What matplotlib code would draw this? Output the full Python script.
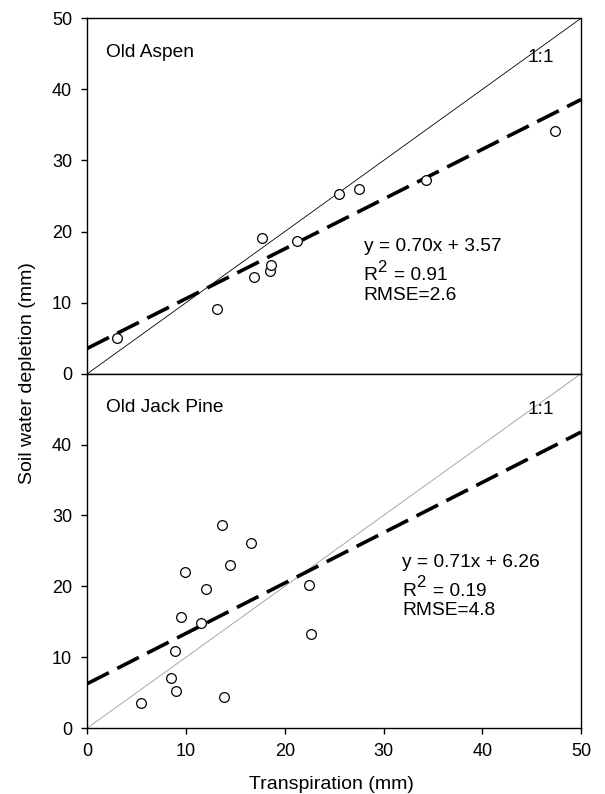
import matplotlib
matplotlib.use("Agg")
import matplotlib.pyplot as plt
import numpy as np

plt.rcParams['font.family'] = ['Liberation Sans', 'DejaVu Sans']

# Old Aspen
aspen_x = [3.0, 13.1, 16.9, 17.7, 18.5, 18.6, 21.2, 25.5, 27.5, 34.3, 47.4]
aspen_y = [5.0, 9.1, 13.6, 19.1, 14.5, 15.3, 18.7, 25.3, 26.0, 27.2, 34.1]
aspen_fit = (0.70, 3.57)

# Old Jack Pine
pine_x = [5.4, 8.5, 9.0, 8.9, 9.5, 9.9, 11.5, 12.0, 13.6, 13.8, 14.5, 16.6, 22.5, 22.7]
pine_y = [3.6, 7.0, 5.2, 10.8, 15.7, 22.0, 14.8, 19.6, 28.7, 4.4, 23.0, 26.1, 20.2, 13.3]
pine_fit = (0.71, 6.26)

panels = [
    ("Old Aspen", aspen_x, aspen_y, aspen_fit, "y = 0.70x + 3.57", "0.91", "2.6"),
    ("Old Jack Pine", pine_x, pine_y, pine_fit, "y = 0.71x + 6.26", "0.19", "4.8"),
]

fig = plt.figure(figsize=(6.05, 7.94), dpi=100)
ax1 = fig.add_axes([0.1443, 0.5293, 0.8160, 0.4476])
ax2 = fig.add_axes([0.1443, 0.0831, 0.8160, 0.4462])

# text positions (data units) for each panel
eq_pos = [(28.0, [17.25, 13.2, 10.4]), (31.9, [22.7, 18.7, 15.9])]
one_pos = [(44.6, 44.5), (44.6, 44.9)]
one_color = ['black', '#9a9a9a']
fs = 13.8

xl = np.array([0, 50])
for i, (ax, p) in enumerate(zip([ax1, ax2], panels)):
    name, xs, ys, fit, eq, r2, rmse = p
    ax.plot(xl, xl, color=one_color[i], lw=0.6)
    ax.plot(xl, fit[0] * xl + fit[1], color='black', lw=2.6,
            dashes=(6.7, 2.6), solid_capstyle='butt', dash_capstyle='butt')
    ax.plot(xs, ys, 'o', mfc='white', mec='black', ms=7, mew=0.9)
    ax.set_xlim(0, 50)
    ax.set_ylim(0, 50)
    ax.text(1.9, 45.2, name, fontsize=fs, va='center', ha='left')
    ax.text(one_pos[i][0], one_pos[i][1], "1:1", fontsize=fs, va='center', ha='left')
    ex, eys = eq_pos[i]
    ax.text(ex, eys[0], eq, fontsize=fs, va='baseline')
    # R^2 with a large superscript, as in the original
    ax.text(ex, eys[1], "R", fontsize=fs, va='baseline')
    ax.annotate("2", (ex, eys[1]), xytext=(9.8, 6.0), textcoords='offset points',
                fontsize=12, va='baseline')
    ax.annotate("= " + r2, (ex, eys[1]), xytext=(22.0, 0), textcoords='offset points',
                fontsize=fs, va='baseline')
    ax.text(ex, eys[2], "RMSE=" + rmse, fontsize=fs, va='baseline')
    for s in ax.spines.values():
        s.set_linewidth(1.0)
    ax.tick_params(direction='out', length=4, width=1, pad=7, labelsize=13)

ax1.set_yticks([0, 10, 20, 30, 40, 50])
ax1.tick_params(axis='x', bottom=False, labelbottom=False)
ax2.set_yticks([0, 10, 20, 30, 40])
ax2.set_xticks([0, 10, 20, 30, 40, 50])

fig.text(0.045, 0.53, "Soil water depletion (mm)", rotation=90,
         fontsize=14, ha='center', va='center')
fig.text(0.548, 0.012, "Transpiration (mm)", fontsize=14, ha='center', va='center')

fig.savefig("out.png", dpi=100)
